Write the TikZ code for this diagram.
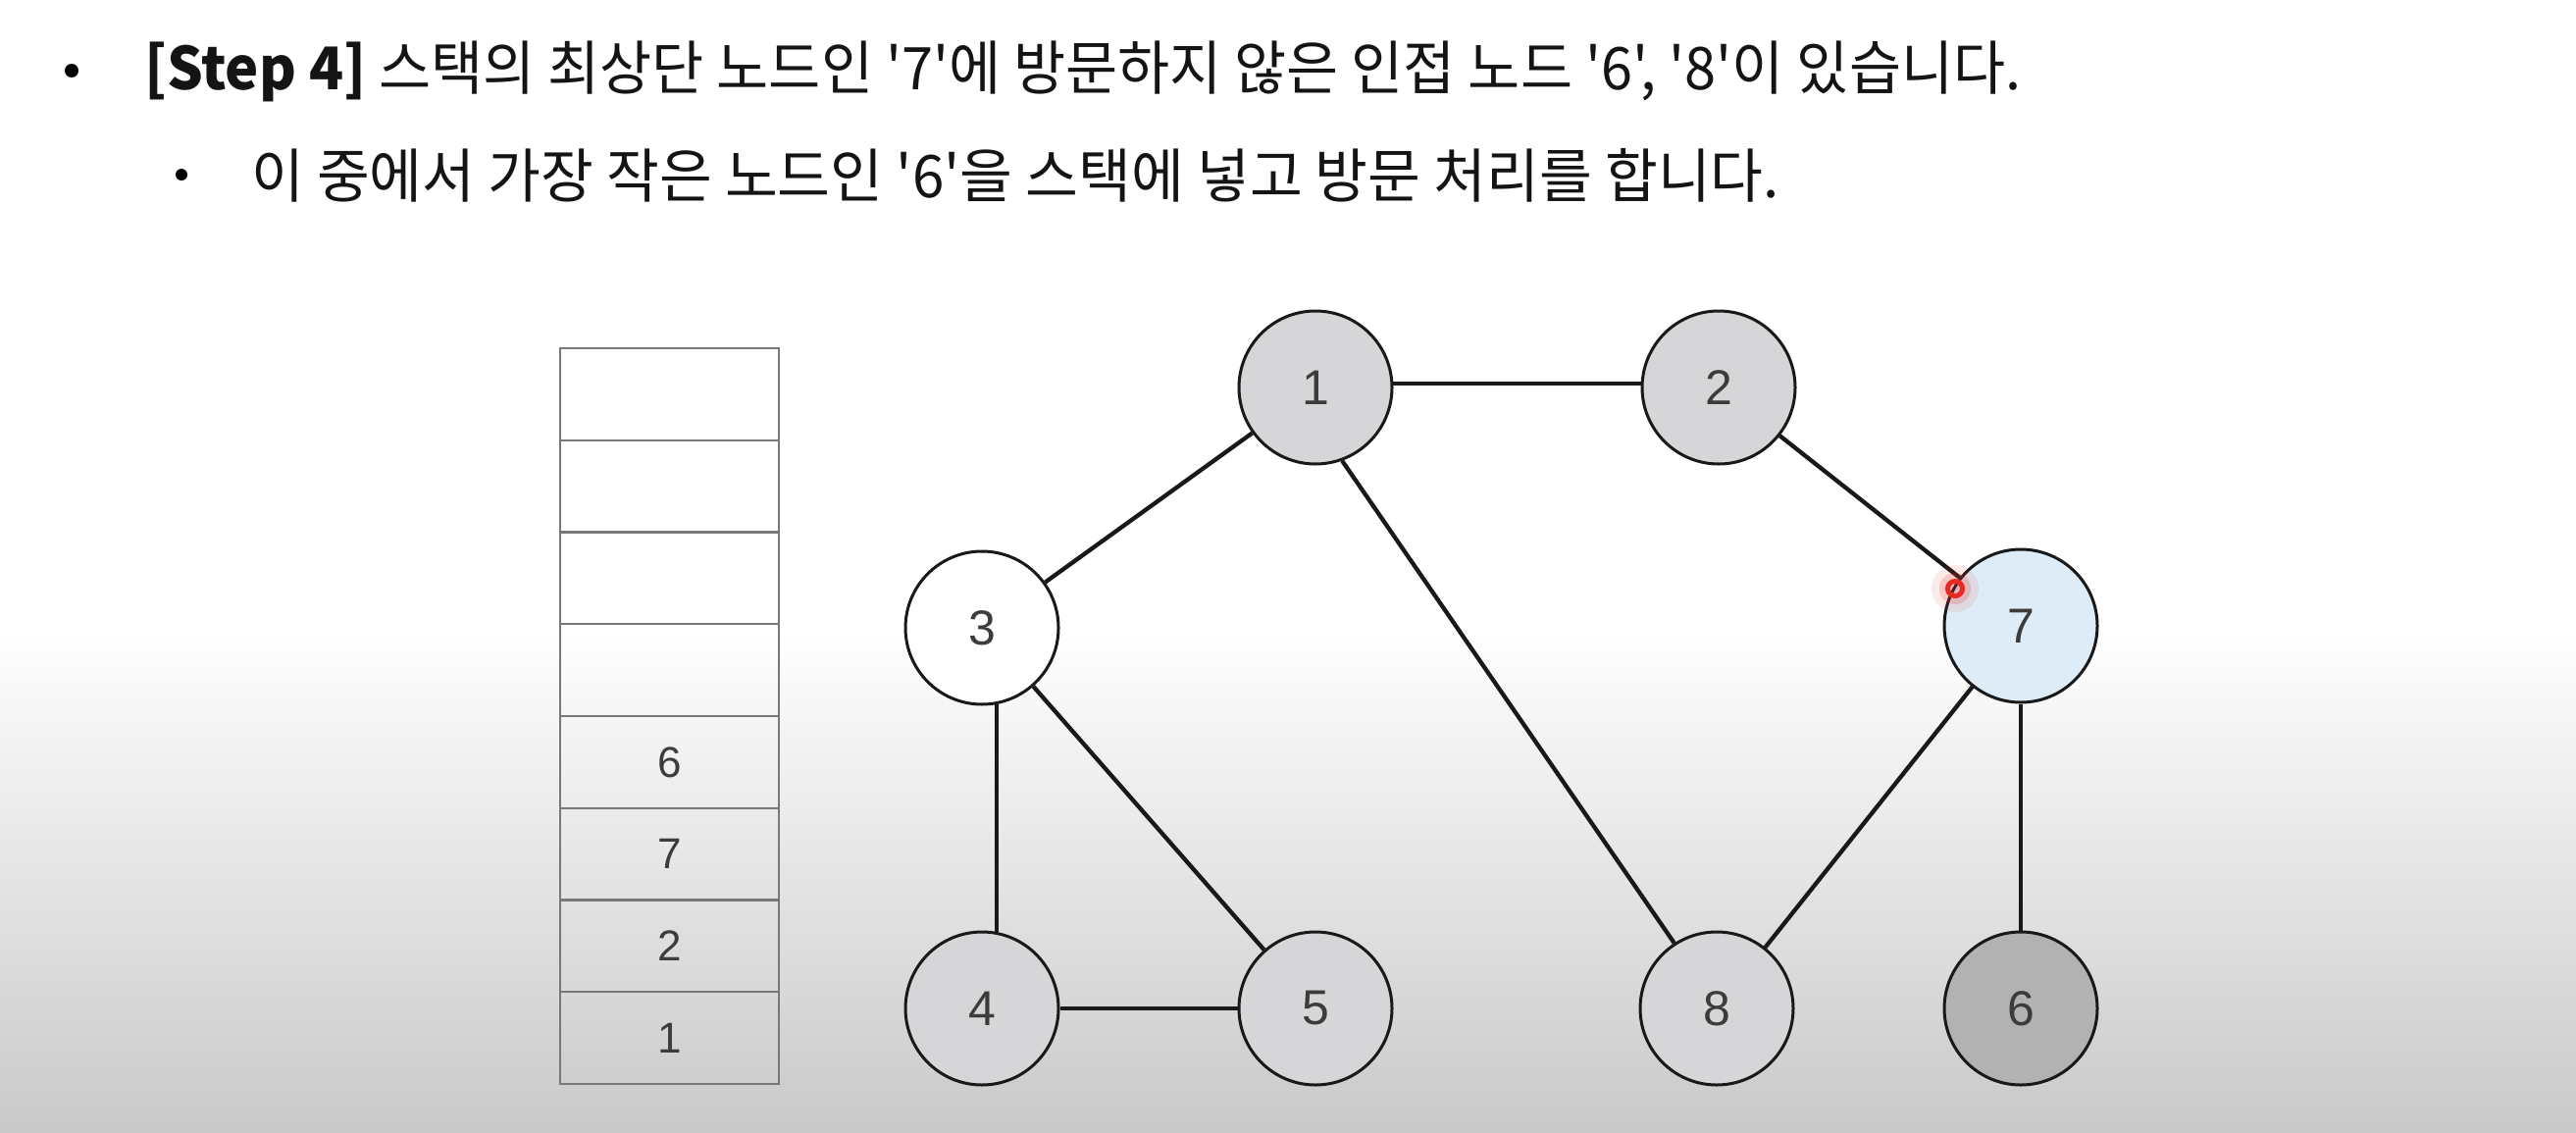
\documentclass[tikz,border=0pt]{standalone}
\usepackage{fontspec}
\newfontfamily\kr{Noto Sans CJK KR}
\newfontfamily\numfont{Liberation Sans}
\definecolor{bgbottom}{RGB}{201,201,201}
\definecolor{visited}{RGB}{214,214,217}
\definecolor{current}{RGB}{221,236,246}
\definecolor{pushed}{RGB}{178,178,178}
\definecolor{digit}{RGB}{60,60,60}
\definecolor{cellline}{RGB}{120,120,120}
\definecolor{edgecol}{RGB}{25,25,25}
\definecolor{pointer}{RGB}{232,40,36}
\tikzset{
  vtx/.style={circle,draw=edgecol,line width=3pt,minimum size=156pt,inner sep=0pt,
    font=\numfont\fontsize{50}{50}\selectfont,text=digit},
  edge/.style={draw=edgecol,line width=4.3pt},
  cell/.style={rectangle,draw=cellline,line width=2pt,minimum width=223pt,minimum height=93.75pt,
    inner sep=0pt,font=\numfont\fontsize{44}{44}\selectfont,text=digit},
  bullettxt/.style={anchor=west,inner sep=0pt,text=black!92},
}
\begin{document}
\begin{tikzpicture}[x=1pt,y=-1pt]
\useasboundingbox (0,0) rectangle (2626,1154);
\fill[white] (0,0) rectangle (2626,641);
\shade[top color=white,bottom color=bgbottom] (0,640) rectangle (2626,1154);

% heading text
\fill[black] (73,72) circle (7);
\node[bullettxt] (line1) at (147,73) {\scalebox{0.962}[1]{\kr\fontsize{60}{66}\selectfont\textbf{[Step 4]} 스택의 최상단 노드인 '7'에 방문하지 않은 인접 노드 '6', '8'이 있습니다.}};
\fill[black] (185,178) circle (6);
\node[bullettxt] (line2) at (256,179) {\scalebox{0.975}[1]{\kr\fontsize{60}{66}\selectfont 이 중에서 가장 작은 노드인 '6'을 스택에 넣고 방문 처리를 합니다.}};

% stack
\node[cell,fill=white] (s8) at (682.5,401.9) {};
\node[cell,fill=white] (s7) at (682.5,495.6) {};
\node[cell,fill=white] (s6) at (682.5,589.4) {};
\node[cell] (s5) at (682.5,683.1) {};
\node[cell] (s4) at (682.5,776.9) {6};
\node[cell] (s3) at (682.5,870.6) {7};
\node[cell] (s2) at (682.5,964.4) {2};
\node[cell] (s1) at (682.5,1058.1) {1};

% graph nodes
\node[vtx,fill=visited] (n1) at (1341,395) {1};
\node[vtx,fill=visited] (n2) at (1752,395) {2};
\node[vtx,fill=white] (n3) at (1001,640) {3};
\node[vtx,fill=current] (n7) at (2060,638) {7};
\node[vtx,fill=visited] (n4) at (1001,1028) {4};
\node[vtx,fill=visited] (n5) at (1341,1028) {5};
\node[vtx,fill=visited] (n8) at (1750,1028) {8};
\node[vtx,fill=pushed] (n6) at (2060,1028) {6};

% edges
\draw[edge] (n1.3) -- (n2.177);
\draw[edge] (n1) -- (n3);
\draw[edge] (n1.-70) -- (n8.123);
\draw[edge] (n2) -- (n7);
\draw[edge] (n3.-79) -- (n4.79);
\draw[edge] (n3) -- (n5);
\draw[edge] (n4) -- (n5);
\draw[edge] (n7) -- (n8);
\draw[edge] (n7) -- (n6);

% laser pointer
\coordinate (ptr) at (1993,600);
\fill[pointer,opacity=0.10] (ptr) circle (24);
\fill[pointer,opacity=0.18] (ptr) circle (16);
\draw[pointer,line width=5pt] (ptr) circle (7.5);
\end{tikzpicture}
\end{document}
